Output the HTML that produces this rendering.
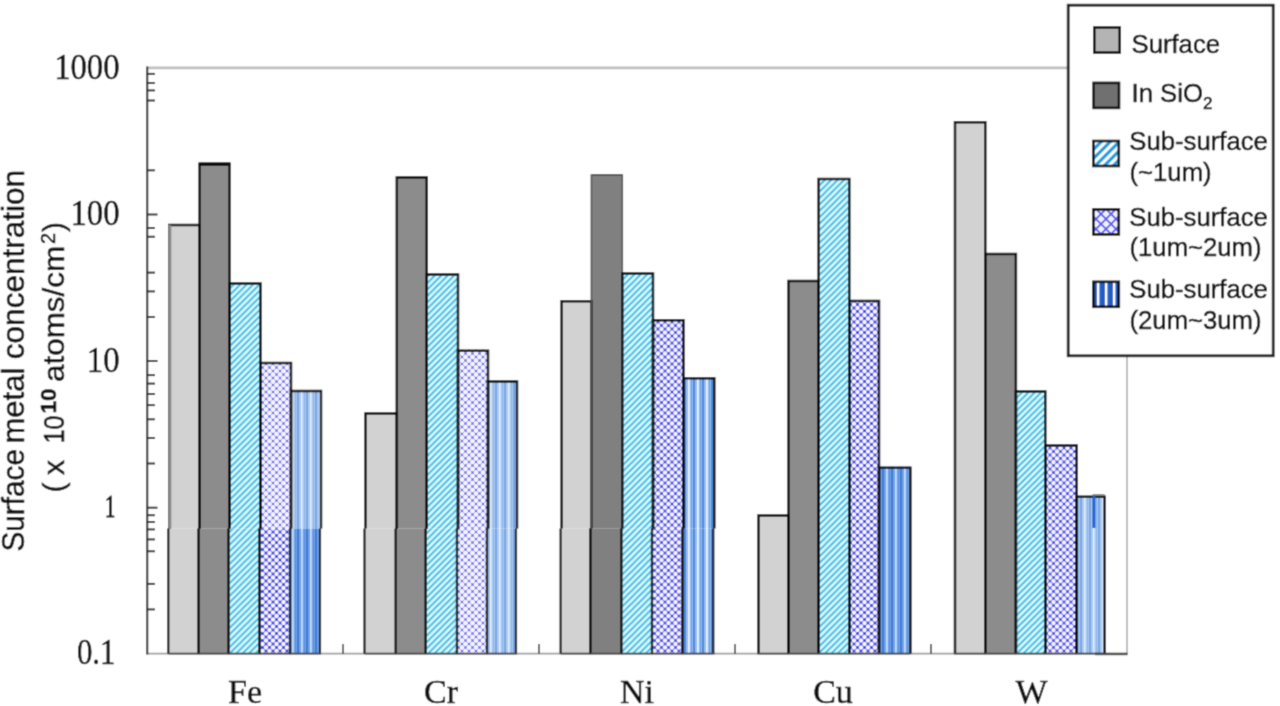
<!DOCTYPE html><html><head><meta charset="utf-8"><style>html,body{margin:0;padding:0;background:#fff;}body{width:1280px;height:706px;overflow:hidden;}svg{display:block}text{stroke:#111;stroke-width:0.5px;paint-order:stroke}</style></head><body>
<svg width="1280" height="706" viewBox="0 0 1280 706">
<defs>
<pattern id="p1" patternUnits="userSpaceOnUse" width="6.4" height="6.4"><rect width="6.4" height="6.4" fill="#dcfbff"/><path d="M-1.6,1.6 L1.6,-1.6 M0,6.4 L6.4,0 M4.8,8 L8,4.8" stroke="#34b6e4" stroke-width="1.8"/></pattern>
<pattern id="p2L" patternUnits="userSpaceOnUse" width="7" height="7"><rect width="7" height="7" fill="#f4f4ff"/><path d="M0,0 L7,7 M7,0 L0,7" stroke="#a8a8f6" stroke-width="1.0"/><rect x="-1.10" y="-1.10" width="2.2" height="2.2" fill="#5c5cea"/><rect x="5.90" y="-1.10" width="2.2" height="2.2" fill="#5c5cea"/><rect x="-1.10" y="5.90" width="2.2" height="2.2" fill="#5c5cea"/><rect x="5.90" y="5.90" width="2.2" height="2.2" fill="#5c5cea"/><rect x="2.40" y="2.40" width="2.2" height="2.2" fill="#5c5cea"/></pattern>
<pattern id="p2M" patternUnits="userSpaceOnUse" width="7" height="7"><rect width="7" height="7" fill="#f6f6ff"/><path d="M0,0 L7,7 M7,0 L0,7" stroke="#8c8cf2" stroke-width="1.1"/><rect x="-1.25" y="-1.25" width="2.5" height="2.5" fill="#3c3ce2"/><rect x="5.75" y="-1.25" width="2.5" height="2.5" fill="#3c3ce2"/><rect x="-1.25" y="5.75" width="2.5" height="2.5" fill="#3c3ce2"/><rect x="5.75" y="5.75" width="2.5" height="2.5" fill="#3c3ce2"/><rect x="2.25" y="2.25" width="2.5" height="2.5" fill="#3c3ce2"/></pattern>
<pattern id="p2S" patternUnits="userSpaceOnUse" width="7" height="7"><rect width="7" height="7" fill="#f8f8ff"/><path d="M0,0 L7,7 M7,0 L0,7" stroke="#8c8cf2" stroke-width="1.1"/><rect x="-1.25" y="-1.25" width="2.5" height="2.5" fill="#2a2ade"/><rect x="5.75" y="-1.25" width="2.5" height="2.5" fill="#2a2ade"/><rect x="-1.25" y="5.75" width="2.5" height="2.5" fill="#2a2ade"/><rect x="5.75" y="5.75" width="2.5" height="2.5" fill="#2a2ade"/><rect x="2.25" y="2.25" width="2.5" height="2.5" fill="#2a2ade"/></pattern>
<pattern id="p3L" patternUnits="userSpaceOnUse" width="9" height="8"><rect width="9" height="8" fill="#a9c9f2"/><rect x="0" width="2" height="8" fill="#78a6e2"/><rect x="4" width="1.5" height="8" fill="#e2f0ff"/><rect x="7" width="1" height="8" fill="#8cb6ea"/></pattern>
<pattern id="p3M" patternUnits="userSpaceOnUse" width="9" height="8"><rect width="9" height="8" fill="#6ea2e8"/><rect x="0" width="2" height="8" fill="#3f7ad6"/><rect x="4" width="1.8" height="8" fill="#c0dcfa"/><rect x="7" width="1" height="8" fill="#5a92e0"/></pattern>
<pattern id="p3N" patternUnits="userSpaceOnUse" width="9" height="8"><rect width="9" height="8" fill="#94bcf0"/><rect x="0" width="2" height="8" fill="#4a88de"/><rect x="4" width="1.8" height="8" fill="#e4f2ff"/><rect x="7" width="1" height="8" fill="#6a9ee6"/></pattern>
<pattern id="l1" patternUnits="userSpaceOnUse" width="9" height="9" x="1093" y="141"><rect width="9" height="9" fill="#ffffff"/><path d="M-2,2 L2,-2 M0,9 L9,0 M7,11 L11,7" stroke="#1e9ee0" stroke-width="3.2"/></pattern>
<pattern id="l2" patternUnits="userSpaceOnUse" width="10" height="10" x="1091" y="204"><rect width="10" height="10" fill="#f2f2ff"/><path d="M0,0 L10,10 M10,0 L0,10" stroke="#5a5af0" stroke-width="1.8"/></pattern>
<pattern id="l3" patternUnits="userSpaceOnUse" width="8" height="8" x="1094"><rect width="8" height="8" fill="#1a5ec8"/><rect x="3" width="2.4" height="8" fill="#ffffff"/></pattern>
<filter id="bl" x="0" y="0" width="1280" height="706" filterUnits="userSpaceOnUse"><feConvolveMatrix order="3" kernelMatrix="1 4 1 4 16 4 1 4 1" divisor="36" edgeMode="duplicate" preserveAlpha="false"/></filter>
</defs>
<g filter="url(#bl)"><rect width="1280" height="706" fill="#fff"/>
<line x1="147" y1="67.9" x2="1070" y2="67.9" stroke="#bfbfbf" stroke-width="2.8"/>
<line x1="147" y1="653.6" x2="1128" y2="653.6" stroke="#a0a0a0" stroke-width="1.6"/>
<line x1="1127" y1="67" x2="1127" y2="654" stroke="#a8a8a8" stroke-width="1.5"/>
<rect x="169.3" y="224.0" width="30.3" height="304.6" fill="#d2d2d2"/>
<rect x="168.3" y="528.6" width="30.3" height="125.2" fill="#d2d2d2"/>
<rect x="199.6" y="163.3" width="29.9" height="365.3" fill="#8c8c8c"/>
<rect x="198.6" y="528.6" width="29.9" height="125.2" fill="#8c8c8c"/>
<rect x="229.5" y="282.5" width="31.0" height="246.1" fill="url(#p1)"/>
<rect x="228.5" y="528.6" width="31.0" height="125.2" fill="url(#p1)"/>
<rect x="260.5" y="362.0" width="30.5" height="166.6" fill="url(#p2L)"/>
<rect x="259.5" y="528.6" width="30.5" height="125.2" fill="url(#p2S)"/>
<rect x="291.0" y="390.0" width="30.0" height="138.6" fill="url(#p3L)"/>
<rect x="290.0" y="528.6" width="30.0" height="125.2" fill="url(#p3M)"/>
<rect x="365.5" y="412.3" width="31.3" height="116.3" fill="#d2d2d2"/>
<rect x="364.5" y="528.6" width="31.3" height="125.2" fill="#d2d2d2"/>
<rect x="396.8" y="176.3" width="29.9" height="352.3" fill="#8c8c8c"/>
<rect x="395.8" y="528.6" width="29.9" height="125.2" fill="#8c8c8c"/>
<rect x="426.7" y="273.3" width="31.3" height="255.3" fill="url(#p1)"/>
<rect x="425.7" y="528.6" width="31.3" height="125.2" fill="url(#p1)"/>
<rect x="458.0" y="349.6" width="30.0" height="179.0" fill="url(#p2L)"/>
<rect x="457.0" y="528.6" width="30.0" height="125.2" fill="url(#p2L)"/>
<rect x="488.0" y="380.5" width="29.0" height="148.1" fill="url(#p3L)"/>
<rect x="487.0" y="528.6" width="29.0" height="125.2" fill="url(#p3L)"/>
<rect x="561.6" y="300.2" width="29.8" height="228.4" fill="#d2d2d2"/>
<rect x="560.6" y="528.6" width="29.8" height="125.2" fill="#d2d2d2"/>
<rect x="591.4" y="174.0" width="30.9" height="354.6" fill="#808080"/>
<rect x="590.4" y="528.6" width="30.9" height="125.2" fill="#808080"/>
<rect x="622.3" y="272.5" width="30.7" height="256.1" fill="url(#p1)"/>
<rect x="621.3" y="528.6" width="30.7" height="125.2" fill="url(#p1)"/>
<rect x="653.0" y="319.1" width="30.5" height="209.5" fill="url(#p2M)"/>
<rect x="652.0" y="528.6" width="30.5" height="125.2" fill="url(#p2M)"/>
<rect x="683.5" y="377.2" width="30.8" height="151.4" fill="url(#p3N)"/>
<rect x="682.5" y="528.6" width="30.8" height="125.2" fill="url(#p3N)"/>
<rect x="758.5" y="514.4" width="30.0" height="139.4" fill="#d2d2d2"/>
<rect x="788.5" y="280.0" width="30.1" height="373.8" fill="#8c8c8c"/>
<rect x="818.6" y="178.0" width="30.7" height="475.8" fill="url(#p1)"/>
<rect x="849.3" y="299.8" width="29.7" height="354.0" fill="url(#p2S)"/>
<rect x="879.0" y="466.6" width="31.4" height="187.2" fill="url(#p3M)"/>
<rect x="955.0" y="121.2" width="30.3" height="532.6" fill="#d2d2d2"/>
<rect x="985.3" y="253.0" width="30.6" height="400.8" fill="#8c8c8c"/>
<rect x="1015.9" y="390.4" width="29.4" height="263.4" fill="url(#p1)"/>
<rect x="1045.3" y="444.3" width="31.3" height="209.5" fill="url(#p2M)"/>
<rect x="1076.6" y="495.7" width="28.0" height="158.1" fill="url(#p3L)"/>
<path d="M169.3,528.6 V225.1 H199.6 V528.6" fill="none" stroke="#0e0e0e" stroke-width="2.5"/>
<rect x="168.3" y="225.0" width="3" height="303.6" fill="#8a8a8a"/>
<path d="M168.3,528.6 V653.8 M198.6,528.6 V653.8" stroke="#151515" stroke-width="2.2"/>
<rect x="168.3" y="652.7" width="31.3" height="1.8" fill="#4a4a4a"/>
<path d="M199.6,528.6 V164.4 H229.5 V528.6" fill="none" stroke="#0e0e0e" stroke-width="2.5"/>
<rect x="198.6" y="162.2" width="31.9" height="3.4" fill="#0e0e0e"/>
<path d="M198.6,528.6 V653.8 M228.5,528.6 V653.8" stroke="#151515" stroke-width="2.2"/>
<rect x="198.6" y="652.7" width="30.9" height="1.8" fill="#4a4a4a"/>
<path d="M229.5,528.6 V283.6 H260.5 V528.6" fill="none" stroke="#0e0e0e" stroke-width="2.5"/>
<path d="M228.5,528.6 V653.8 M259.5,528.6 V653.8" stroke="#151515" stroke-width="2.2"/>
<rect x="228.5" y="652.7" width="32.0" height="1.8" fill="#4a4a4a"/>
<path d="M260.5,528.6 V363.1 H291.0 V528.6" fill="none" stroke="#0e0e0e" stroke-width="2.5"/>
<path d="M259.5,528.6 V653.8 M290.0,528.6 V653.8" stroke="#151515" stroke-width="2.2"/>
<rect x="259.5" y="652.7" width="31.5" height="1.8" fill="#4a4a4a"/>
<path d="M291.0,528.6 V391.1 H321.0 V528.6" fill="none" stroke="#0e0e0e" stroke-width="2.5"/>
<path d="M290.0,528.6 V653.8 M320.0,528.6 V653.8" stroke="#151515" stroke-width="2.2"/>
<rect x="290.0" y="652.7" width="31.0" height="1.8" fill="#4a4a4a"/>
<path d="M365.5,528.6 V413.4 H396.8 V528.6" fill="none" stroke="#0e0e0e" stroke-width="2.5"/>
<path d="M364.5,528.6 V653.8 M395.8,528.6 V653.8" stroke="#151515" stroke-width="2.2"/>
<rect x="364.5" y="652.7" width="32.3" height="1.8" fill="#4a4a4a"/>
<path d="M396.8,528.6 V177.4 H426.7 V528.6" fill="none" stroke="#0e0e0e" stroke-width="2.5"/>
<path d="M395.8,528.6 V653.8 M425.7,528.6 V653.8" stroke="#151515" stroke-width="2.2"/>
<rect x="395.8" y="652.7" width="30.9" height="1.8" fill="#4a4a4a"/>
<path d="M426.7,528.6 V274.4 H458.0 V528.6" fill="none" stroke="#0e0e0e" stroke-width="2.5"/>
<path d="M425.7,528.6 V653.8 M457.0,528.6 V653.8" stroke="#151515" stroke-width="2.2"/>
<rect x="425.7" y="652.7" width="32.3" height="1.8" fill="#4a4a4a"/>
<path d="M458.0,528.6 V350.7 H488.0 V528.6" fill="none" stroke="#0e0e0e" stroke-width="2.5"/>
<path d="M457.0,528.6 V653.8 M487.0,528.6 V653.8" stroke="#151515" stroke-width="2.2"/>
<rect x="457.0" y="652.7" width="31.0" height="1.8" fill="#4a4a4a"/>
<path d="M488.0,528.6 V381.6 H517.0 V528.6" fill="none" stroke="#0e0e0e" stroke-width="2.5"/>
<path d="M487.0,528.6 V653.8 M516.0,528.6 V653.8" stroke="#151515" stroke-width="2.2"/>
<rect x="487.0" y="652.7" width="30.0" height="1.8" fill="#4a4a4a"/>
<path d="M561.6,528.6 V301.3 H591.4 V528.6" fill="none" stroke="#0e0e0e" stroke-width="2.5"/>
<path d="M560.6,528.6 V653.8 M590.4,528.6 V653.8" stroke="#151515" stroke-width="2.2"/>
<rect x="560.6" y="652.7" width="30.8" height="1.8" fill="#4a4a4a"/>
<path d="M591.4,528.6 V175.1 H622.3 V528.6" fill="none" stroke="#555" stroke-width="1.6"/>
<path d="M590.4,528.6 V653.8 M621.3,528.6 V653.8" stroke="#151515" stroke-width="2.2"/>
<rect x="590.4" y="652.7" width="31.9" height="1.8" fill="#4a4a4a"/>
<path d="M622.3,528.6 V273.6 H653.0 V528.6" fill="none" stroke="#0e0e0e" stroke-width="2.5"/>
<path d="M621.3,528.6 V653.8 M652.0,528.6 V653.8" stroke="#151515" stroke-width="2.2"/>
<rect x="621.3" y="652.7" width="31.7" height="1.8" fill="#4a4a4a"/>
<path d="M653.0,528.6 V320.2 H683.5 V528.6" fill="none" stroke="#0e0e0e" stroke-width="2.5"/>
<path d="M652.0,528.6 V653.8 M682.5,528.6 V653.8" stroke="#151515" stroke-width="2.2"/>
<rect x="652.0" y="652.7" width="31.5" height="1.8" fill="#4a4a4a"/>
<path d="M683.5,528.6 V378.3 H714.3 V528.6" fill="none" stroke="#0e0e0e" stroke-width="2.5"/>
<path d="M682.5,528.6 V653.8 M713.3,528.6 V653.8" stroke="#151515" stroke-width="2.2"/>
<rect x="682.5" y="652.7" width="31.8" height="1.8" fill="#4a4a4a"/>
<path d="M758.5,653.8 V515.5 H788.5 V653.8" fill="none" stroke="#0e0e0e" stroke-width="2.5"/>
<rect x="757.5" y="652.7" width="31.0" height="1.8" fill="#4a4a4a"/>
<path d="M788.5,653.8 V281.1 H818.6 V653.8" fill="none" stroke="#0e0e0e" stroke-width="2.5"/>
<rect x="787.5" y="652.7" width="31.1" height="1.8" fill="#4a4a4a"/>
<path d="M818.6,653.8 V179.1 H849.3 V653.8" fill="none" stroke="#0e0e0e" stroke-width="2.5"/>
<rect x="817.6" y="652.7" width="31.7" height="1.8" fill="#4a4a4a"/>
<path d="M849.3,653.8 V300.9 H879.0 V653.8" fill="none" stroke="#0e0e0e" stroke-width="2.5"/>
<rect x="848.3" y="652.7" width="30.7" height="1.8" fill="#4a4a4a"/>
<path d="M879.0,653.8 V467.7 H910.4 V653.8" fill="none" stroke="#0e0e0e" stroke-width="2.5"/>
<rect x="878.0" y="652.7" width="32.4" height="1.8" fill="#4a4a4a"/>
<path d="M955.0,653.8 V122.3 H985.3 V653.8" fill="none" stroke="#0e0e0e" stroke-width="2.5"/>
<rect x="954.0" y="652.7" width="31.3" height="1.8" fill="#4a4a4a"/>
<path d="M985.3,653.8 V254.1 H1015.9 V653.8" fill="none" stroke="#0e0e0e" stroke-width="2.5"/>
<rect x="984.3" y="652.7" width="31.6" height="1.8" fill="#4a4a4a"/>
<path d="M1015.9,653.8 V391.5 H1045.3 V653.8" fill="none" stroke="#0e0e0e" stroke-width="2.5"/>
<rect x="1014.9" y="652.7" width="30.4" height="1.8" fill="#4a4a4a"/>
<path d="M1045.3,653.8 V445.4 H1076.6 V653.8" fill="none" stroke="#0e0e0e" stroke-width="2.5"/>
<rect x="1044.3" y="652.7" width="32.3" height="1.8" fill="#4a4a4a"/>
<path d="M1076.6,653.8 V496.8 H1104.6 V653.8" fill="none" stroke="#0e0e0e" stroke-width="2.5"/>
<rect x="1075.6" y="652.7" width="29.0" height="1.8" fill="#4a4a4a"/>
<rect x="1095" y="652.8" width="32.5" height="2.4" fill="#444"/>
<rect x="1092.6" y="494.2" width="12" height="1.6" fill="#777"/>
<rect x="1092.4" y="495.5" width="3" height="32.5" fill="#1d5fcc"/>
<line x1="147.2" y1="66.5" x2="147.2" y2="654.5" stroke="#3c3c3c" stroke-width="2.2"/>
<line x1="147" y1="214.5" x2="157.5" y2="214.5" stroke="#333" stroke-width="2"/>
<line x1="147" y1="361" x2="157.5" y2="361" stroke="#333" stroke-width="2"/>
<line x1="147" y1="507.7" x2="157.5" y2="507.7" stroke="#333" stroke-width="2"/>
<line x1="147" y1="73.9" x2="155" y2="73.9" stroke="#333" stroke-width="2"/>
<line x1="147" y1="83" x2="155" y2="83" stroke="#333" stroke-width="2"/>
<line x1="147" y1="90.4" x2="155" y2="90.4" stroke="#333" stroke-width="2"/>
<line x1="147" y1="100.5" x2="155" y2="100.5" stroke="#333" stroke-width="2"/>
<line x1="147" y1="170.3" x2="155" y2="170.3" stroke="#333" stroke-width="2"/>
<line x1="147" y1="228" x2="155" y2="228" stroke="#333" stroke-width="2"/>
<line x1="147" y1="236.75" x2="155" y2="236.75" stroke="#333" stroke-width="2"/>
<line x1="147" y1="272.6" x2="155" y2="272.6" stroke="#333" stroke-width="2"/>
<line x1="147" y1="291.4" x2="155" y2="291.4" stroke="#333" stroke-width="2"/>
<line x1="147" y1="317" x2="155" y2="317" stroke="#333" stroke-width="2"/>
<line x1="147" y1="375.1" x2="155" y2="375.1" stroke="#333" stroke-width="2"/>
<line x1="147" y1="383.6" x2="155" y2="383.6" stroke="#333" stroke-width="2"/>
<line x1="147" y1="394" x2="155" y2="394" stroke="#333" stroke-width="2"/>
<line x1="147" y1="405.1" x2="155" y2="405.1" stroke="#333" stroke-width="2"/>
<line x1="147" y1="419.3" x2="155" y2="419.3" stroke="#333" stroke-width="2"/>
<line x1="147" y1="438" x2="155" y2="438" stroke="#333" stroke-width="2"/>
<line x1="147" y1="463.5" x2="155" y2="463.5" stroke="#333" stroke-width="2"/>
<line x1="147" y1="515.2" x2="155" y2="515.2" stroke="#333" stroke-width="2"/>
<line x1="147" y1="522" x2="155" y2="522" stroke="#333" stroke-width="2"/>
<line x1="147" y1="529.4" x2="155" y2="529.4" stroke="#333" stroke-width="2"/>
<line x1="147" y1="539.4" x2="155" y2="539.4" stroke="#333" stroke-width="2"/>
<line x1="147" y1="551.25" x2="155" y2="551.25" stroke="#333" stroke-width="2"/>
<line x1="147" y1="583.9" x2="155" y2="583.9" stroke="#333" stroke-width="2"/>
<line x1="147" y1="609.4" x2="155" y2="609.4" stroke="#333" stroke-width="2"/>
<line x1="343" y1="644" x2="343" y2="654" stroke="#555" stroke-width="1.8"/>
<line x1="539" y1="644" x2="539" y2="654" stroke="#555" stroke-width="1.8"/>
<line x1="735" y1="644" x2="735" y2="654" stroke="#555" stroke-width="1.8"/>
<line x1="931" y1="644" x2="931" y2="654" stroke="#555" stroke-width="1.8"/>
<text transform="translate(119.6,78.6) scale(0.936,1)" text-anchor="end" font-family="Liberation Serif" font-size="35" fill="#111">1000</text>
<text transform="translate(119.5,224.8) scale(0.936,1)" text-anchor="end" font-family="Liberation Serif" font-size="35" fill="#111">100</text>
<text transform="translate(119.6,372.2) scale(0.936,1)" text-anchor="end" font-family="Liberation Serif" font-size="35" fill="#111">10</text>
<text transform="translate(115.2,517.0) scale(0.66,1)" text-anchor="end" font-family="Liberation Serif" font-size="31" fill="#111" style="stroke-width:1.1px">1</text>
<text transform="translate(115.4,664.4) scale(0.88,1)" text-anchor="end" font-family="Liberation Serif" font-size="35" fill="#111">0.1</text>
<text x="245" y="702.6" text-anchor="middle" font-family="Liberation Serif" font-size="34" fill="#111">Fe</text>
<text x="441" y="702.6" text-anchor="middle" font-family="Liberation Serif" font-size="34" fill="#111">Cr</text>
<text x="637" y="702.6" text-anchor="middle" font-family="Liberation Serif" font-size="34" fill="#111">Ni</text>
<text x="833" y="702.6" text-anchor="middle" font-family="Liberation Serif" font-size="34" fill="#111">Cu</text>
<text x="1031.5" y="702.6" text-anchor="middle" font-family="Liberation Serif" font-size="34" fill="#111">W</text>
<text transform="translate(24.4,551.6) rotate(-90)" font-family="Liberation Sans" font-size="31" fill="#111" textLength="102.6" lengthAdjust="spacingAndGlyphs">Surface</text>
<text transform="translate(24.4,443.6) rotate(-90)" font-family="Liberation Sans" font-size="31" fill="#111" textLength="76" lengthAdjust="spacingAndGlyphs">metal</text>
<text transform="translate(24.4,359.2) rotate(-90)" font-family="Liberation Sans" font-size="31" fill="#111" textLength="189.3" lengthAdjust="spacingAndGlyphs">concentration</text>
<text transform="translate(64,492.5) rotate(-90)" font-family="Liberation Sans" fill="#111" font-size="30"  >(</text>
<text transform="translate(64,475) rotate(-90)" font-family="Liberation Sans" fill="#111" font-size="30"  >x</text>
<text transform="translate(64,443.5) rotate(-90)" font-family="Liberation Sans" fill="#111" font-size="30" textLength="28" lengthAdjust="spacingAndGlyphs" >10</text>
<text transform="translate(55.5,413.5) rotate(-90)" font-family="Liberation Sans" fill="#111" font-size="22.5"  font-weight="bold">10</text>
<text transform="translate(64,382) rotate(-90)" font-family="Liberation Sans" fill="#111" font-size="30" textLength="136.2" lengthAdjust="spacingAndGlyphs" >atoms/cm</text>
<text transform="translate(54.6,244) rotate(-90)" font-family="Liberation Sans" fill="#111" font-size="20"  >2</text>
<text transform="translate(64,232) rotate(-90)" font-family="Liberation Sans" fill="#111" font-size="30"  >)</text>
<rect x="1068.2" y="5.2" width="205" height="350.6" fill="#fff" stroke="#1c1c1c" stroke-width="2.8"/>
<rect x="1094.3" y="27.5" width="25.4" height="25" fill="#b4b4b4" stroke="#111" stroke-width="2.6"/>
<rect x="1093.6" y="82.9" width="25.4" height="25" fill="#707070" stroke="#111" stroke-width="2.6"/>
<rect x="1093.4" y="141.0" width="25.4" height="25" fill="url(#l1)" stroke="#111" stroke-width="2.6"/>
<rect x="1093.4" y="209.4" width="25.4" height="25" fill="url(#l2)" stroke="#111" stroke-width="2.6"/>
<rect x="1093.4" y="281.8" width="25.4" height="25" fill="url(#l3)" stroke="#111" stroke-width="2.6"/>
<text x="1131.5" y="53" font-family="Liberation Sans" font-size="25.7" fill="#111">Surface</text>
<text x="1131.5" y="102.2" font-family="Liberation Sans" font-size="25.7" fill="#111">In SiO<tspan font-size="17" dy="7">2</tspan></text>
<text x="1129.3" y="149.8" font-family="Liberation Sans" font-size="25.7" fill="#111">Sub-surface</text><text x="1129.5" y="180.5" font-family="Liberation Sans" font-size="25.7" fill="#111">(~1um)</text>
<text x="1129.3" y="226" font-family="Liberation Sans" font-size="25.7" fill="#111">Sub-surface</text><text x="1129.5" y="255.5" font-family="Liberation Sans" font-size="25.7" fill="#111">(1um~2um)</text>
<text x="1129.3" y="297.9" font-family="Liberation Sans" font-size="25.7" fill="#111">Sub-surface</text><text x="1129.5" y="328.8" font-family="Liberation Sans" font-size="25.7" fill="#111">(2um~3um)</text>
</g></svg></body></html>
